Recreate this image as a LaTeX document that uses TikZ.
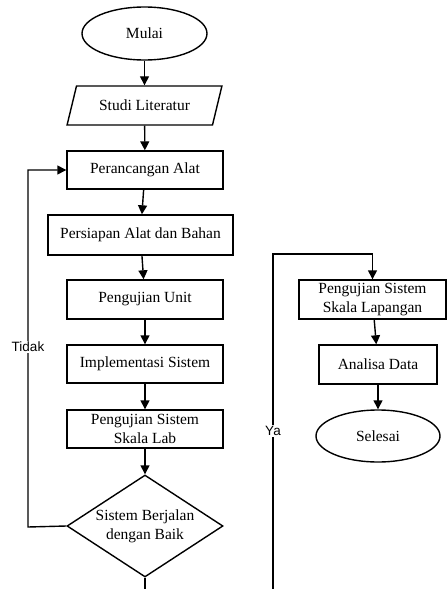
\documentclass[tikz,border=0pt]{standalone}
\usepackage{fontspec}
\setmainfont{Liberation Serif}
\newfontfamily\lblfont{Liberation Sans}
\usetikzlibrary{shapes.geometric,arrows.meta}
\begin{document}
\begin{tikzpicture}[x=1pt,y=-1pt,
  every node/.style={font=\fontsize{15.5}{19}\selectfont, inner sep=0pt},
  proc/.style={draw, line width=1.4pt, rectangle, align=center},
  term/.style={draw, line width=1.4pt, ellipse},
  io/.style={draw, line width=1.4pt, trapezium, trapezium left angle=60, trapezium right angle=120, trapezium stretches=true},
  decis/.style={draw, line width=1.4pt, diamond, aspect=1.5, align=center},
  conn/.style={line width=1.4pt, -{Triangle[length=9pt,width=9pt]}},
  plain/.style={line width=1.4pt},
  lbl/.style={fill=white, font=\lblfont\fontsize{13.5}{15}\selectfont, inner sep=1pt}]
\useasboundingbox (0,0) rectangle (447,589);
\node[term, minimum width=125pt, minimum height=53pt] (mulai) at (144.5,33.5) {Mulai};
\node[io, minimum width=155pt, minimum height=39pt] (studi) at (144.5,105.5) {Studi Literatur};
\node[proc, minimum width=156pt, minimum height=38pt] (peran) at (145,170) {Perancangan Alat};
\node[proc, minimum width=185pt, minimum height=40pt] (persi) at (140.5,235) {Persiapan Alat dan Bahan};
\node[proc, minimum width=156pt, minimum height=39pt] (unit) at (145,299.5) {Pengujian Unit};
\node[proc, minimum width=156pt, minimum height=38pt] (impl) at (145,364) {Implementasi Sistem};
\node[proc, minimum width=156pt, minimum height=38pt] (lab) at (145,429) {Pengujian Sistem\\Skala Lab};
\node[decis, minimum width=156pt, minimum height=102pt] (dec) at (145,526) {Sistem Berjalan\\dengan Baik};
\node[proc, minimum width=147pt, minimum height=39pt] (lap) at (372.5,299.5) {Pengujian Sistem\\Skala Lapangan};
\node[proc, minimum width=118pt, minimum height=39pt] (ana) at (378,364.5) {Analisa Data};
\node[term, minimum width=124pt, minimum height=52pt] (sel) at (378,436) {Selesai};
\coordinate (decend) at (145,590);
\coordinate (yastart) at (273,590);
\coordinate (yacorner) at (273,254);
\coordinate (tidakx) at (28,527);
\draw[conn] (mulai) -- (studi);
\draw[conn] (studi) -- (peran);
\draw[conn] (peran) -- (persi);
\draw[conn] (persi) -- (unit);
\draw[conn] (unit) -- (impl);
\draw[conn] (impl) -- (lab);
\draw[conn] (lab) -- (dec);
\draw[plain] (dec.south) -- (decend);
\draw[conn] (dec.west) -- (tidakx) |- (peran.west);
\node[lbl] (tidak) at (28,347) {Tidak};
\draw[conn] (yastart) -- (yacorner) -| (lap.north);
\node[lbl] (ya) at (273,431) {Ya};
\draw[conn] (lap) -- (ana);
\draw[conn] (ana) -- (sel);
\end{tikzpicture}
\end{document}
